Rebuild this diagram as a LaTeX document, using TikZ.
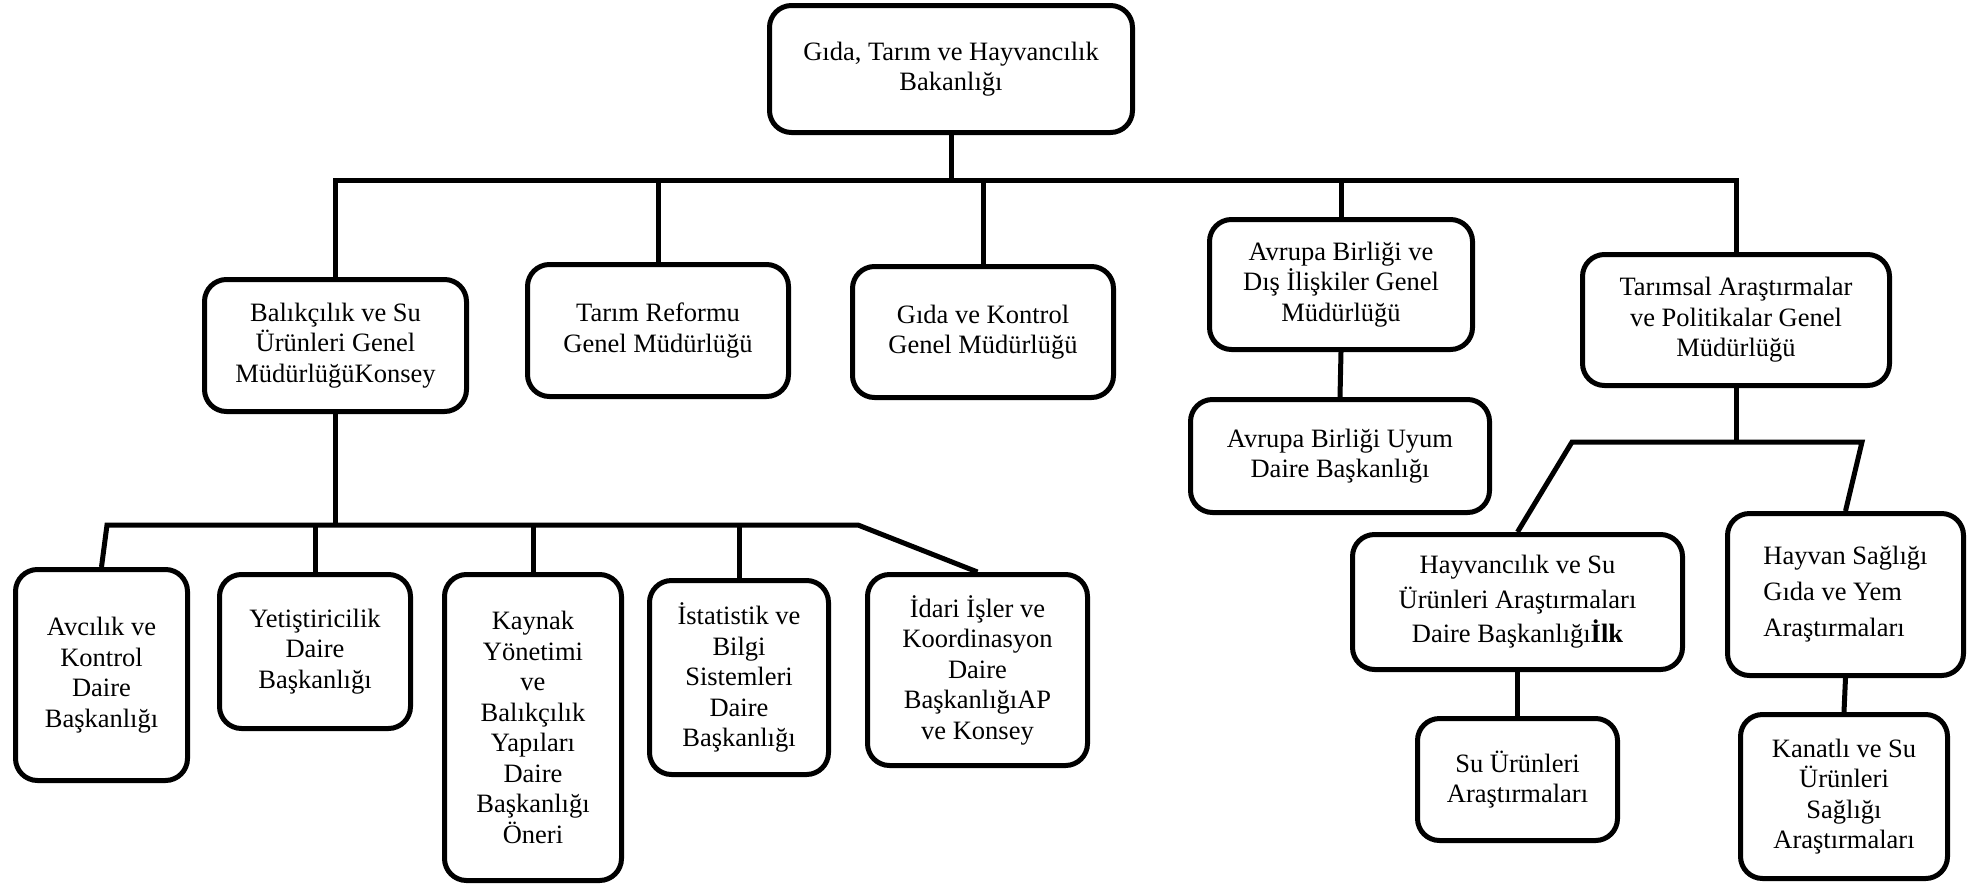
\documentclass[tikz,border=0pt]{standalone}
\usepackage{fontspec}
\setmainfont{Liberation Serif}
\tikzset{
  box/.style={draw, line width=5pt, rounded corners=22pt, align=center, inner sep=0pt,
    font=\fontsize{26.5}{30.5}\selectfont},
  link/.style={line width=5pt, line join=miter},
}
\newcommand{\orgbox}[7][]{%
  \pgfmathsetmacro{\obcx}{(#3+#5)/2}%
  \pgfmathsetmacro{\obcy}{(#4+#6)/2}%
  \pgfmathsetmacro{\obww}{#5-#3-5}%
  \pgfmathsetmacro{\obhh}{#6-#4-5}%
  \node[box, minimum width=\obww pt, minimum height=\obhh pt, #1] (#2) at (\obcx,\obcy) {#7};}
\begin{document}
\begin{tikzpicture}[x=1pt, y=-1pt]
\useasboundingbox (0,0) rectangle (1982,887);
% level 0
\orgbox{top}{767}{3}{1135}{135}{Gıda, Tarım ve Hayvancılık\\Bakanlığı}
% level 1
\orgbox{bal}{202}{277}{469}{414}{Balıkçılık ve Su\\Ürünleri Genel\\MüdürlüğüKonsey}
\orgbox{tarim}{525}{262}{791}{399}{Tarım Reformu\\Genel Müdürlüğü}
\orgbox{gida}{850}{264}{1116}{400}{Gıda ve Kontrol\\Genel Müdürlüğü}
\orgbox{avrupa}{1207}{217}{1475}{352}{Avrupa Birliği ve\\Dış İlişkiler Genel\\Müdürlüğü}
\orgbox{tarimsal}{1580}{252}{1892}{388}{Tarımsal Araştırmalar\\ve Politikalar Genel\\Müdürlüğü}
% level 2 (left)
\orgbox{avcilik}{13}{567}{190}{783}{Avcılık ve\\Kontrol\\Daire\\Başkanlığı}
\orgbox{yetis}{217}{572}{413}{731}{Yetiştiricilik\\Daire\\Başkanlığı}
\orgbox{kaynak}{442}{572}{624}{883}{Kaynak\\Yönetimi\\ve\\Balıkçılık\\Yapıları\\Daire\\Başkanlığı\\Öneri}
\orgbox{istat}{647}{578}{831}{777}{İstatistik ve\\Bilgi\\Sistemleri\\Daire\\Başkanlığı}
\orgbox{idari}{865}{572}{1090}{768}{İdari İşler ve\\Koordinasyon\\Daire\\BaşkanlığıAP\\ve Konsey}
% level 2 (right)
\orgbox{uyum}{1188}{397}{1492}{515}{Avrupa Birliği Uyum\\Daire Başkanlığı}
\orgbox[font=\fontsize{26.5}{34.5}\selectfont]{hayv}{1350}{532}{1685}{672}{Hayvancılık ve Su\\Ürünleri Araştırmaları\\Daire Başkanlığı\textbf{İlk}}
\orgbox[align=left, font=\fontsize{26.5}{36}\selectfont]{hsag}{1725}{511}{1966}{678}{Hayvan Sağlığı\\Gıda ve Yem\\Araştırmaları}
% level 3
\orgbox{su}{1415}{716}{1620}{843}{Su Ürünleri\\Araştırmaları}
\orgbox{kanat}{1738}{712}{1950}{881}{Kanatlı ve Su\\Ürünleri\\Sağlığı\\Araştırmaları}

% junction coordinates
\coordinate (mbar) at (0,180);
\coordinate (sL) at (107,525);
\coordinate (sR) at (858,525);
\coordinate (tL) at (1572,442);
\coordinate (tR) at (1862,442);

% main bus
\draw[link] (bal.north) -- (bal.north |- mbar) -- (tarimsal.north |- mbar) -- (tarimsal.north);
\draw[link] (top.south) -- (top.south |- mbar);
\draw[link] (tarim.north) -- (tarim.north |- mbar);
\draw[link] (gida.north) -- (gida.north |- mbar);
\draw[link] (avrupa.north) -- (avrupa.north |- mbar);
\draw[link] (avrupa.south) -- (uyum.north);

% Balikcilik subtree
\draw[link] (bal.south) -- (bal.south |- sL);
\draw[link] (avcilik.north) -- (sL) -- (sR) -- (idari.north);
\draw[link] (yetis.north) -- (yetis.north |- sL);
\draw[link] (kaynak.north) -- (kaynak.north |- sL);
\draw[link] (istat.north) -- (istat.north |- sL);

% Tarimsal subtree
\draw[link] (tarimsal.south) -- (tarimsal.south |- tL);
\draw[link] (hayv.north) -- (tL) -- (tR) -- (hsag.north);
\draw[link] (hayv.south) -- (su.north);
\draw[link] (hsag.south) -- (kanat.north);
\end{tikzpicture}
\end{document}
